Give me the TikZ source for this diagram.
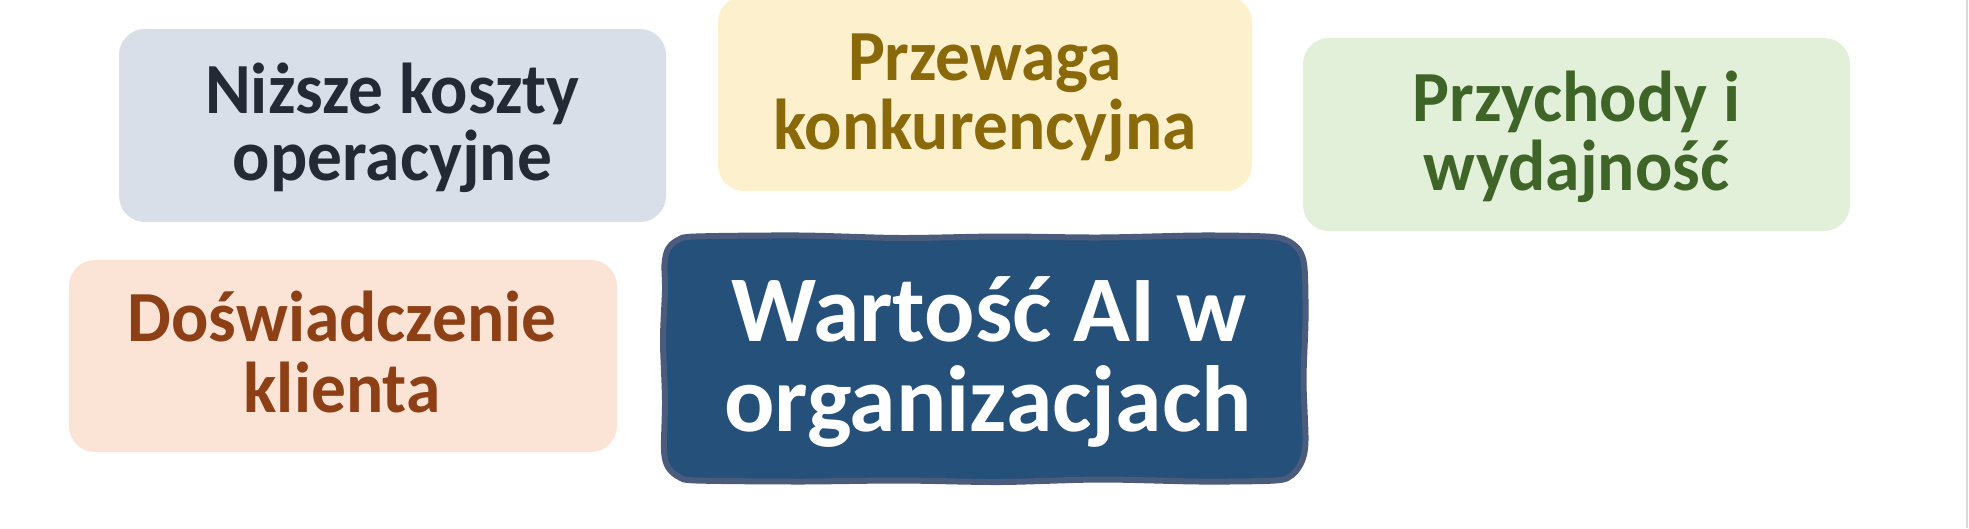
\documentclass[tikz,border=0pt]{standalone}
\usepackage{fontspec}
\setmainfont{Carlito}
\newfontfamily\smallboxfont[FakeStretch=0.965]{Carlito}
\definecolor{c1fill}{HTML}{D9DFE8}
\definecolor{c1text}{HTML}{232A36}
\definecolor{c2fill}{HTML}{FDF1CD}
\definecolor{c2text}{HTML}{8A690B}
\definecolor{c3fill}{HTML}{E2EFD9}
\definecolor{c3text}{HTML}{3F6428}
\definecolor{c4fill}{HTML}{FBE3D6}
\definecolor{c4text}{HTML}{8D3F15}
\definecolor{cmfill}{HTML}{245079}
\definecolor{cmdraw}{HTML}{4A5B7C}
\tikzset{
  valbox/.style={rectangle, rounded corners=26pt, inner sep=0pt},
  valtext/.style={anchor=base, inner sep=0pt,
    font=\smallboxfont\bfseries\fontsize{72}{68}\selectfont},
  mainbox/.style={rectangle, inner sep=0pt, draw=none, fill=none},
  maintext/.style={anchor=base, inner sep=0pt, text=white,
    font=\bfseries\fontsize{94}{91}\selectfont}
}
\begin{document}
\begin{tikzpicture}[x=1pt,y=-1pt]
\useasboundingbox (0,0) rectangle (1969,528);
\fill[white] (0,0) rectangle (1969,528);
% value boxes
\node[valbox, fill=c1fill, minimum width=547pt, minimum height=193pt] (koszty) at (392.5,125.5) {};
\node[valtext, text=c1text] (koszty1) at (392.5,113) {Niższe koszty};
\node[valtext, text=c1text] (koszty2) at (392.5,180) {operacyjne};
\node[valbox, fill=c2fill, minimum width=534pt, minimum height=195pt] (przewaga) at (985,93.5) {};
\node[valtext, text=c2text] (przewaga1) at (985,80) {Przewaga};
\node[valtext, text=c2text] (przewaga2) at (985,149) {konkurencyjna};
\node[valbox, fill=c3fill, minimum width=547pt, minimum height=193pt] (przychody) at (1576.5,134.5) {};
\node[valtext, text=c3text] (przychody1) at (1576.5,121) {Przychody i};
\node[valtext, text=c3text] (przychody2) at (1576.5,190) {wydajność};
\node[valbox, fill=c4fill, minimum width=548pt, minimum height=192pt] (klient) at (343,356) {};
\node[valtext, text=c4text] (klient1) at (342,341) {Doświadczenie};
\node[valtext, text=c4text] (klient2) at (342,412) {klienta};
% central box with hand-drawn outline
\node[mainbox, minimum width=645pt, minimum height=249pt] (ai) at (984.5,358.5) {};
\draw[cmdraw, fill=cmfill, line width=6pt, line join=round]
  plot[smooth cycle, tension=0.5] coordinates {
    (664.5,264) (668,249) (678,240) (696,236.5)
    (800,235.5) (900,238) (1000,236.5) (1100,237.5) (1200,235.5) (1266,236.5)
    (1286,240) (1299,250) (1304.5,268)
    (1305.5,320) (1303.5,380) (1305.5,440)
    (1302,461) (1292,475) (1275,480.5)
    (1200,481.5) (1100,479.5) (1000,482) (900,480.5) (800,481.5) (697,480.5)
    (679,477) (668,467) (664,450)
    (665,400) (663,340) (665,290)
  };
\node[maintext] (ai1) at (989,341) {Wartość AI w};
\node[maintext] (ai2) at (988,431) {organizacjach};
\draw[black!15, line width=2pt] (1967,0) -- (1967,528);
\end{tikzpicture}
\end{document}
